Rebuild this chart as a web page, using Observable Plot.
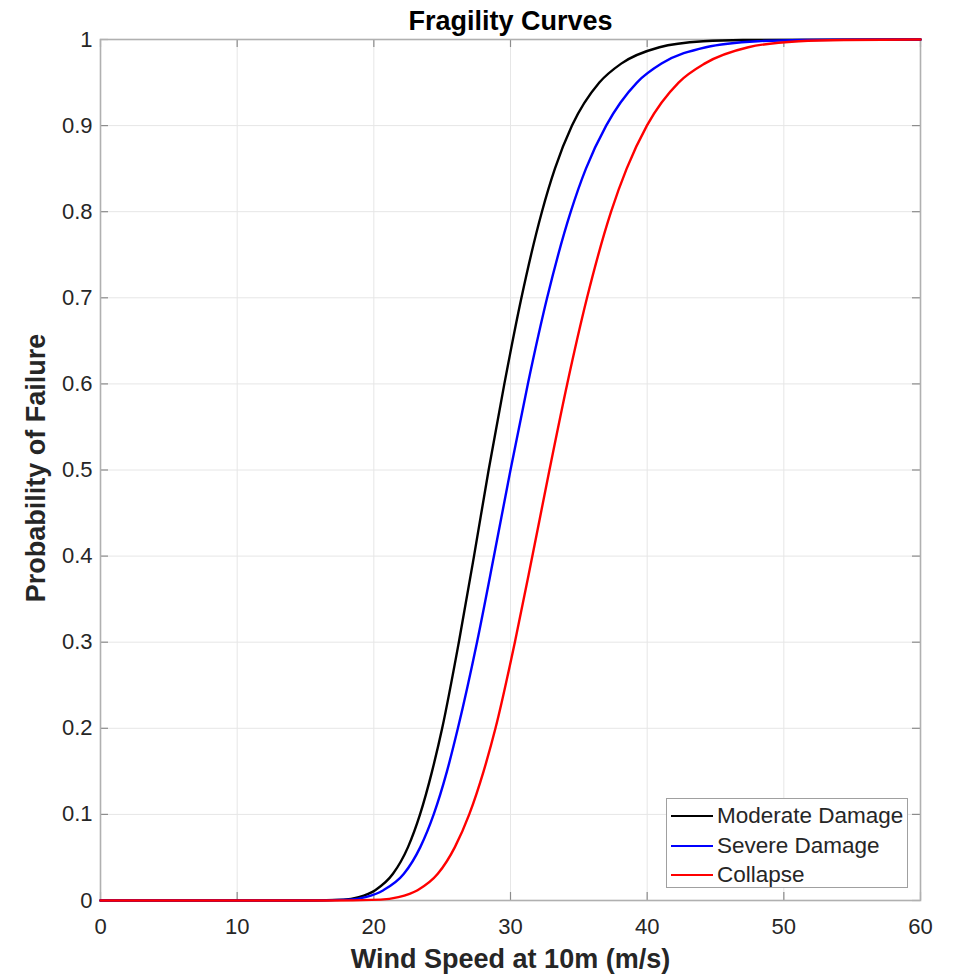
<!DOCTYPE html>
<html>
<head>
<meta charset="utf-8">
<script src="https://cdn.jsdelivr.net/npm/d3@7"></script>
<script src="https://cdn.jsdelivr.net/npm/@observablehq/plot@0.6"></script>
<style>
  html, body { margin: 0; padding: 0; background: #fff; }
  #wrap { position: relative; width: 953px; height: 976px; font-family: "Liberation Sans", Arial, Helvetica, sans-serif; }
  #legend { position: absolute; left: 666px; top: 798px; width: 240px; height: 88px; border: 1px solid #a0a0a0; background: #fff; box-sizing: content-box; }
  .row { position: absolute; left: 0; height: 30px; display: flex; align-items: center; }
  .sw { width: 42px; height: 0; border-top: 2.5px solid; margin-left: 4px; margin-right: 4px; }
  .lab { font-size: 22.5px; color: #262626; white-space: nowrap; }
</style>
</head>
<body>
<div id="wrap"></div>
<script>
// ---- data ----
const seriesNames = ["Moderate Damage", "Severe Damage", "Collapse"];
const seriesColors = ["#000000", "#0000ff", "#ff0000"];
const probs =        [0, 0,    0.001, 0.004, 0.012, 0.031, 0.062, 0.1,   0.15,  0.2,   0.3,   0.4,   0.5,   0.6,   0.7,   0.8,   0.85,  0.9,   0.95,  0.972, 0.991, 0.998, 0.9995, 1];
const moderateWind = [0, 14,   17.8,  18.9,  20.1,  21.4,  22.5,  23.38, 24.26, 25.0,  26.22, 27.33, 28.4,  29.55, 30.8,  32.3,  33.25, 34.5,  36.5,  38.1,  40.9,  44.1,  47.0,   60];
const severeWind =   [0, 14.5, 18.2,  19.4,  20.7,  22.2,  23.4,  24.38, 25.35, 26.15, 27.55, 28.79, 30.0,  31.27, 32.68, 34.41, 35.52, 37.0,  39.25, 41.05, 44.3,  48.1,  51.4,   60];
const collapseWind = [0, 16.5, 20.5,  21.8,  23.2,  24.68, 25.93, 26.98, 28.03, 28.9,  30.32, 31.6,  32.85, 34.15, 35.6,  37.36, 38.5,  39.98, 42.3,  44.2,  47.4,  51.1,  54.4,   60];
const xTicks = [0, 10, 20, 30, 40, 50, 60];
const yTicks = [0, 0.1, 0.2, 0.3, 0.4, 0.5, 0.6, 0.7, 0.8, 0.9, 1];
const titleText = "Fragility Curves";
const xLabelText = "Wind Speed at 10m (m/s)";
const yLabelText = "Probability of Failure";

const winds = [moderateWind, severeWind, collapseWind];
const rows = [];
seriesNames.forEach((name, i) => {
  winds[i].forEach((w, j) => rows.push({series: name, wind: w, p: probs[j]}));
});

const W = 953, H = 976, mL = 100, mR = 33, mT = 39, mB = 76;
const innerW = W - mL - mR, innerH = H - mT - mB;
const font = "'Liberation Sans', Arial, Helvetica, sans-serif";

const chart = Plot.plot({
  width: W,
  height: H,
  marginLeft: mL,
  marginRight: mR,
  marginTop: mT,
  marginBottom: mB,
  style: {fontSize: "22px", fontFamily: font, color: "#262626", background: "#fff"},
  x: {domain: [0, 60], ticks: xTicks, tickSize: 0, tickPadding: 18, label: null, tickFormat: d => String(d)},
  y: {domain: [0, 1], ticks: yTicks, tickSize: 0, tickPadding: 8, label: null, tickFormat: d => String(d)},
  color: {domain: seriesNames, range: seriesColors},
  marks: [
    Plot.ruleX(xTicks, {x: d => d, stroke: "#e6e6e6", strokeWidth: 1}),
    Plot.ruleY(yTicks, {y: d => d, stroke: "#e6e6e6", strokeWidth: 1}),
    Plot.tickX(xTicks, {x: d => d, insetTop: innerH - 8, stroke: "#8c8c8c", strokeWidth: 1.2}),
    Plot.tickX(xTicks, {x: d => d, insetBottom: innerH - 8, stroke: "#8c8c8c", strokeWidth: 1.2}),
    Plot.tickY(yTicks, {y: d => d, insetRight: innerW - 8, stroke: "#8c8c8c", strokeWidth: 1.2}),
    Plot.tickY(yTicks, {y: d => d, insetLeft: innerW - 8, stroke: "#8c8c8c", strokeWidth: 1.2}),
    Plot.frame({stroke: "#b0b0b0", strokeWidth: 1.6}),
    Plot.line(rows, {x: "wind", y: "p", z: "series", stroke: "series", strokeWidth: 2.4, curve: "monotone-x"}),
    Plot.text([titleText], {frameAnchor: "top", lineAnchor: "middle", textAnchor: "middle", dy: -18, fontSize: 27, fontWeight: "bold", fill: "#000"}),
    Plot.text([xLabelText], {frameAnchor: "bottom", lineAnchor: "middle", textAnchor: "middle", dy: 59, fontSize: 27, fontWeight: "bold", fill: "#262626"}),
    Plot.text([yLabelText], {frameAnchor: "left", lineAnchor: "middle", textAnchor: "middle", dx: -64, dy: -2, rotate: -90, fontSize: 27, fontWeight: "bold", fill: "#262626"})
  ]
});

const wrap = document.getElementById("wrap");
wrap.appendChild(chart);

const legend = document.createElement("div");
legend.id = "legend";
seriesNames.forEach((name, i) => {
  const r = document.createElement("div");
  r.className = "row";
  r.style.top = (2 + i * 29.5) + "px";
  const sw = document.createElement("div");
  sw.className = "sw";
  sw.style.borderTopColor = seriesColors[i];
  const lab = document.createElement("span");
  lab.className = "lab";
  lab.textContent = name;
  r.appendChild(sw);
  r.appendChild(lab);
  legend.appendChild(r);
});
wrap.appendChild(legend);
</script>
</body>
</html>
